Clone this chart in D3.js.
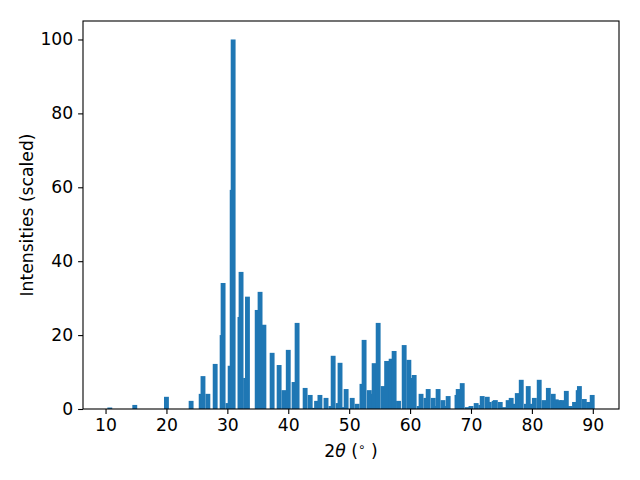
<!DOCTYPE html>
<html>
<head>
<meta charset="utf-8">
<script src="https://cdn.jsdelivr.net/npm/d3@7"></script>
<style>
  body { margin: 0; background: #fff; }
  svg { display: block; }
  text { font-family: "DejaVu Sans", sans-serif; }
</style>
</head>
<body>
<svg id="chart" width="640" height="480"></svg>
<script>
// Peak positions (2θ, degrees) and scaled intensities
const positions = [
  10.7, 14.8, 20.0, 24.05, 25.7, 26.0, 26.8, 28.0, 29.14, 29.3,
  30.1, 30.46, 30.79, 30.95, 32.07, 32.25, 33.0, 33.3, 34.9, 35.37,
  36.0, 37.35, 38.5, 39.3, 40.0, 40.95, 41.45, 42.77, 43.6, 44.0,
  44.65, 45.2, 46.2, 47.0, 47.37, 48.2, 48.5, 49.15, 49.5, 50.5,
  51.3, 52.1, 52.45, 53.3, 53.6, 54.1, 54.76, 55.57, 55.95, 56.15,
  56.89, 57.38, 58.1, 59.03, 59.8, 60.3, 60.67, 61.5, 61.8, 62.6,
  62.97, 63.8, 64.3, 64.6, 65.4, 65.8, 66.25, 67.7, 67.9, 68.56,
  69.4, 70.0, 70.85, 71.6, 71.84, 72.67, 72.9, 73.0, 73.8, 74.0,
  74.8, 75.5, 76.1, 76.6, 77.25, 77.6, 78.25, 79.1, 79.4, 80.0,
  80.4, 81.2, 82.0, 82.7, 83.5, 84.0, 84.5, 85.0, 85.65, 86.3,
  87.0, 87.6, 87.8, 88.6, 89.3, 89.9
];
const intensities = [
  0.4, 1.1, 3.3, 2.2, 4.1, 8.9, 4.1, 12.2, 20.0, 34.1,
  1.6, 11.7, 59.3, 100, 24.9, 37.1, 8.4, 30.4, 26.8, 31.7,
  22.8, 15.2, 11.9, 5.1, 16.0, 7.3, 23.3, 5.7, 3.8, 0.3,
  2.2, 3.8, 3.0, 0.8, 14.4, 1.6, 12.5, 0.5, 5.4, 3.0,
  1.4, 6.8, 18.7, 5.1, 4.1, 12.4, 23.3, 6.2, 1.1, 13.0,
  13.6, 15.7, 2.2, 17.3, 13.3, 8.4, 9.2, 0.8, 4.1, 3.0,
  5.4, 3.0, 0.8, 5.4, 2.4, 0.8, 3.5, 3.8, 5.4, 7.0,
  0.5, 0.8, 1.6, 1.1, 3.5, 3.3, 0.8, 1.9, 2.2, 2.4,
  1.9, 0.5, 2.4, 3.0, 1.4, 4.3, 7.9, 1.4, 6.2, 1.4,
  3.0, 7.9, 2.4, 5.7, 4.1, 2.6, 2.4, 2.4, 4.9, 0.8,
  1.9, 5.1, 6.2, 2.7, 1.9, 3.8
];
const xTicks = [10, 20, 30, 40, 50, 60, 70, 80, 90];
const yTicks = [0, 20, 40, 60, 80, 100];
const barWidth = 0.8;

const data = positions.map((p, i) => ({ x: p, y: intensities[i] }));

const margin = { left: 83, right: 21, top: 21, bottom: 71 };
const W = 640, H = 480;
const iw = W - margin.left - margin.right;
const ih = H - margin.top - margin.bottom;

const xMin = d3.min(positions) - barWidth / 2;
const xMax = d3.max(positions) + barWidth / 2;
const pad = (xMax - xMin) * 0.05;
const x = d3.scaleLinear().domain([xMin - pad, xMax + pad]).range([0, iw]);
const y = d3.scaleLinear().domain([0, d3.max(intensities) * 1.05]).range([ih, 0]);

const svg = d3.select("#chart");
const g = svg.append("g").attr("transform", `translate(${margin.left},${margin.top})`);

g.selectAll("rect.bar")
  .data(data)
  .join("rect")
  .attr("class", "bar")
  .attr("x", d => x(d.x - barWidth / 2))
  .attr("width", d => x(d.x + barWidth / 2) - x(d.x - barWidth / 2))
  .attr("y", d => y(d.y))
  .attr("height", d => ih - y(d.y))
  .attr("fill", "#1f77b4");

const xAxis = g.append("g")
  .attr("transform", `translate(0,${ih})`)
  .call(d3.axisBottom(x).tickValues(xTicks).tickSize(4.9).tickPadding(4.6).tickFormat(d3.format("d")));
const yAxis = g.append("g")
  .call(d3.axisLeft(y).tickValues(yTicks).tickSize(4.9).tickPadding(4.9).tickFormat(d3.format("d")));

[xAxis, yAxis].forEach(a => {
  a.attr("font-size", null).attr("font-family", null);
  a.select(".domain").remove();
  a.selectAll(".tick line").attr("stroke", "#000").attr("stroke-width", 1.1);
  a.selectAll(".tick text").attr("fill", "#000").style("font-size", "17.2px").style("font-family", "DejaVu Sans, sans-serif");
});

// frame
g.append("rect")
  .attr("x", 0).attr("y", 0).attr("width", iw).attr("height", ih)
  .attr("fill", "none").attr("stroke", "#000").attr("stroke-width", 1.1);

// x label: 2θ (°)
const xl = svg.append("text")
  .attr("x", margin.left + iw / 2)
  .attr("y", 457)
  .attr("text-anchor", "middle")
  .style("font-size", "17.2px")
  .attr("fill", "#000");
xl.append("tspan").text("2");
xl.append("tspan").attr("font-style", "italic").text("θ");
xl.append("tspan").text(" (");
xl.append("tspan").attr("dy", -6).style("font-size", "12px").text("∘");
xl.append("tspan").attr("dy", 6).text(" )");

svg.append("text")
  .attr("transform", `translate(33,${margin.top + ih / 2}) rotate(-90)`)
  .attr("text-anchor", "middle")
  .style("font-size", "17.2px")
  .attr("fill", "#000")
  .text("Intensities (scaled)");
</script>
</body>
</html>
